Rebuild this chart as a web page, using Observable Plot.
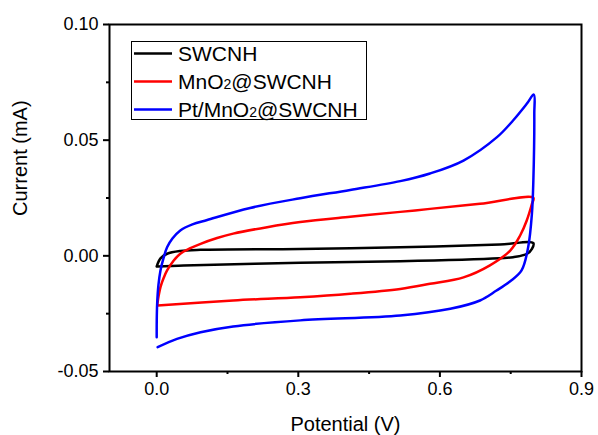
<!DOCTYPE html>
<html>
<head>
<meta charset="utf-8">
<script src="https://cdn.jsdelivr.net/npm/d3@7"></script>
<script src="https://cdn.jsdelivr.net/npm/@observablehq/plot@0.6"></script>
<style>
  html, body { margin: 0; padding: 0; background: #fff; }
  svg { display: block; }
</style>
</head>
<body>
<div id="chart"></div>
<script>
// ---- data ----
const seriesNames = ["SWCNH", "MnO2@SWCNH", "Pt/MnO2@SWCNH"];
const seriesColors = ["#000000", "#ff0000", "#0000ff"];

const swcnhV = [0.000, 0.008, 0.022, 0.050, 0.093, 0.304, 0.516, 0.727, 0.798, 0.795, 0.785, 0.755, 0.727, 0.516, 0.304, 0.057, 0.002];
const swcnhI = [-0.0046, -0.0011, 0.0009, 0.0021, 0.0026, 0.0030, 0.0037, 0.0049, 0.0055, 0.0030, 0.0009, -0.0006, -0.0010, -0.0023, -0.0030, -0.0042, -0.0046];

const mno2V = [0.0016, 0.0043, 0.008, 0.0149, 0.022, 0.0361, 0.050, 0.0714, 0.093, 0.128, 0.162, 0.234, 0.304, 0.410, 0.516, 0.579, 0.685, 0.798, 0.795, 0.784, 0.770, 0.749, 0.706, 0.650, 0.579, 0.516, 0.410, 0.304, 0.162, 0.002];
const mno2I = [-0.0206, -0.0171, -0.0135, -0.0095, -0.0063, -0.0020, 0.0009, 0.0033, 0.0052, 0.0077, 0.0096, 0.0124, 0.0146, 0.0169, 0.0190, 0.0203, 0.0225, 0.0251, 0.0225, 0.0153, 0.0088, 0.0023, -0.0041, -0.0093, -0.0121, -0.0143, -0.0164, -0.0179, -0.0193, -0.0215];

const ptV = [0.000, 0.0001, 0.001, 0.0036, 0.008, 0.0143, 0.022, 0.0333, 0.050, 0.0757, 0.107, 0.198, 0.304, 0.410, 0.516, 0.579, 0.650, 0.721, 0.755, 0.784, 0.799, 0.800, 0.798, 0.795, 0.787, 0.773, 0.749, 0.720, 0.685, 0.622, 0.516, 0.304, 0.162, 0.093, 0.043, 0.002];
const ptI = [-0.0352, -0.0279, -0.0206, -0.0128, -0.0063, -0.0011, 0.0037, 0.0075, 0.0110, 0.0136, 0.0155, 0.0207, 0.0249, 0.0285, 0.0323, 0.0356, 0.0412, 0.0513, 0.0585, 0.0657, 0.0697, 0.0615, 0.0326, 0.0183, 0.0037, -0.0063, -0.0110, -0.0150, -0.0193, -0.0229, -0.0258, -0.0279, -0.0305, -0.0330, -0.0359, -0.0395];

const xTicks = [0.0, 0.3, 0.6, 0.9];
const xMinorTicks = [0.15, 0.45, 0.75];
const yTicks = [-0.05, 0.00, 0.05, 0.10];
const yMinorTicks = [-0.025, 0.025, 0.075];
const xLabel = "Potential (V)";
const yLabel = "Current (mA)";

// ---- build table ----
const series = [[swcnhV, swcnhI], [mno2V, mno2I], [ptV, ptI]];
const rows = [];
series.forEach(([vs, is], k) => {
  vs.forEach((v, i) => rows.push({series: seriesNames[k], v, i: is[i], order: i}));
});

const FONT = "Liberation Sans, Arial, Helvetica, sans-serif";
const W = 598, H = 435;
const mL = 109, mR = 17, mT = 24, mB = 64;

const plot = Plot.plot({
  width: W,
  height: H,
  marginLeft: mL,
  marginRight: mR,
  marginTop: mT,
  marginBottom: mB,
  style: {fontFamily: FONT, background: "#fff", color: "#000", overflow: "visible"},
  x: {domain: [-0.1, 0.9]},
  y: {domain: [-0.05, 0.10]},
  color: {domain: seriesNames, range: seriesColors},
  marks: [
    Plot.axisX({ticks: xTicks, tickSize: 6, tickPadding: 5, strokeWidth: 2, fontSize: 18,
      tickFormat: d => d.toFixed(1), label: null}),
    Plot.axisX({ticks: xMinorTicks, tickSize: 3, strokeWidth: 2, tickFormat: () => "", label: null}),
    Plot.axisY({ticks: yTicks, tickSize: 6, tickPadding: 5, strokeWidth: 2, fontSize: 18,
      tickFormat: d => d.toFixed(2), label: null}),
    Plot.axisY({ticks: yMinorTicks, tickSize: 3, strokeWidth: 2, tickFormat: () => "", label: null}),
    Plot.line(rows, {x: "v", y: "i", z: "series", stroke: "series", strokeWidth: 2.5,
      curve: "catmull-rom", strokeLinejoin: "round", strokeLinecap: "round"}),
    Plot.frame({stroke: "#000", strokeWidth: 2}),
    Plot.text([xLabel], {frameAnchor: "bottom", dy: 53, fontSize: 20, lineAnchor: "middle", fill: "#000"}),
    Plot.text([yLabel], {frameAnchor: "left", dx: -89, dy: 18, rotate: -90, fontSize: 20, lineAnchor: "middle", fill: "#000"})
  ]
});

document.getElementById("chart").appendChild(plot);

// ---- legend (inside the frame, top-left) ----
const svg = d3.select(plot);
const lg = svg.append("g").attr("font-family", FONT).attr("font-size", 21).attr("text-anchor", "start");
lg.append("rect").attr("x", 131.5).attr("y", 41.5).attr("width", 235).attr("height", 78)
  .attr("fill", "#fff").attr("stroke", "#000").attr("stroke-width", 1);
seriesNames.forEach((name, k) => {
  const cy = 53.5 + k * 28;
  lg.append("line").attr("x1", 134).attr("x2", 172).attr("y1", cy).attr("y2", cy)
    .attr("stroke", seriesColors[k]).attr("stroke-width", 2.5);
  const t = lg.append("text").attr("x", 178).attr("y", cy + 7.5).attr("fill", "#000")
    .attr("text-anchor", "start");
  const parts = name.split("2");
  parts.forEach((p, j) => {
    t.append("tspan").text(p);
    if (j < parts.length - 1) t.append("tspan").attr("font-size", 14).text("2");
  });
});
</script>
</body>
</html>
